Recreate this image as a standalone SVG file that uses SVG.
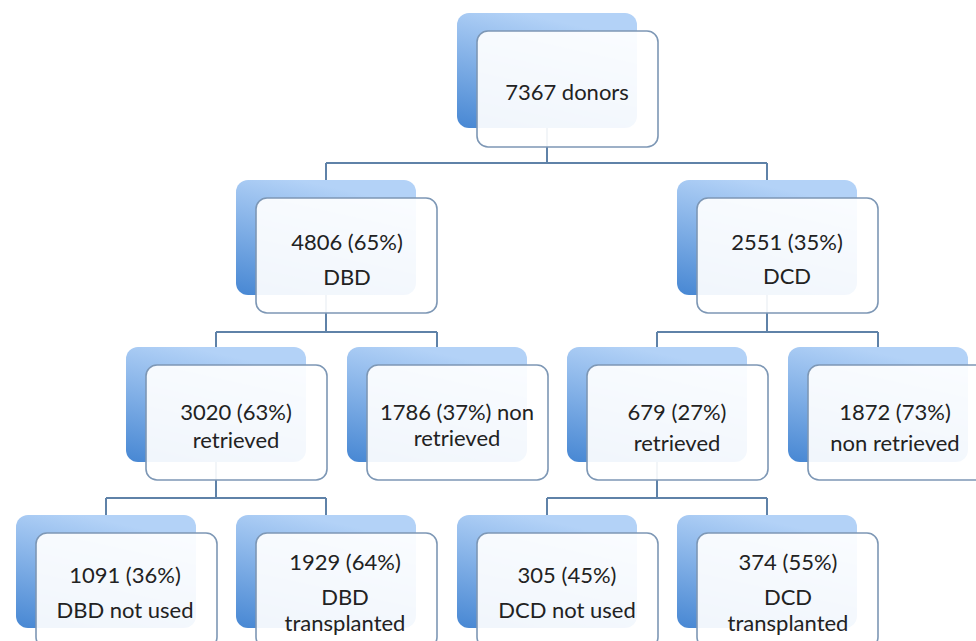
<svg xmlns="http://www.w3.org/2000/svg" width="976" height="641" viewBox="0 0 976 641">
<defs>
<linearGradient id="bg" x1="0.35" y1="0" x2="0" y2="1">
<stop offset="0" stop-color="#b3d2f7"/>
<stop offset="1" stop-color="#4787d3"/>
</linearGradient>
<style>
.back{fill:url(#bg);}
.front{fill:#ffffff;fill-opacity:0.92;stroke:#7d97b5;stroke-width:1.6;}
.conn{fill:none;stroke:#5f82a8;stroke-width:2;}
text{font-family:Lato,"Open Sans","Liberation Sans",sans-serif;font-size:22px;fill:#222;text-anchor:middle;}
</style>
</defs>
<rect width="976" height="641" fill="#ffffff"/>
<g id="connectors" class="conn">
<path d="M547,128V163M326,163H767M326,163V180M767,163V180"/>
<path d="M326,295V332M216,332H437M216,332V347M437,332V347"/>
<path d="M767,295V332M657,332H878M657,332V347M878,332V347"/>
<path d="M216,462V498M106,498H326M106,498V515M326,498V515"/>
<path d="M657,462V498M547,498H767M547,498V515M767,498V515"/>
</g>
<g id="n-donors">
<rect class="back" x="457" y="13" width="180" height="115" rx="12"/>
<rect class="front" x="477" y="31" width="181" height="116" rx="11"/>
<text x="567" y="100">7367 donors</text>
</g>
<g id="n-dbd">
<rect class="back" x="236" y="180" width="180" height="115" rx="12"/>
<rect class="front" x="256" y="198" width="181" height="115" rx="11"/>
<text x="347" y="250">4806 (65%)</text>
<text x="347" y="285">DBD</text>
</g>
<g id="n-dcd">
<rect class="back" x="677" y="180" width="180" height="115" rx="12"/>
<rect class="front" x="697" y="198" width="181" height="115" rx="11"/>
<text x="787" y="250">2551 (35%)</text>
<text x="787" y="284">DCD</text>
</g>
<g id="n-dbd-retrieved">
<rect class="back" x="126" y="347" width="180" height="115" rx="12"/>
<rect class="front" x="146" y="365" width="181" height="115" rx="11"/>
<text x="236" y="420">3020 (63%)</text>
<text x="236" y="448">retrieved</text>
</g>
<g id="n-dbd-nonretrieved">
<rect class="back" x="347" y="347" width="180" height="115" rx="12"/>
<rect class="front" x="367" y="365" width="181" height="115" rx="11"/>
<text x="457" y="420">1786 (37%) non</text>
<text x="457" y="446">retrieved</text>
</g>
<g id="n-dcd-retrieved">
<rect class="back" x="567" y="347" width="180" height="115" rx="12"/>
<rect class="front" x="587" y="365" width="181" height="115" rx="11"/>
<text x="677" y="420">679 (27%)</text>
<text x="677" y="451">retrieved</text>
</g>
<g id="n-dcd-nonretrieved">
<rect class="back" x="788" y="347" width="180" height="115" rx="12"/>
<rect class="front" x="808" y="365" width="181" height="115" rx="11"/>
<text x="895" y="420">1872 (73%)</text>
<text x="895" y="451">non retrieved</text>
</g>
<g id="n-dbd-notused">
<rect class="back" x="16" y="515" width="180" height="113" rx="12"/>
<rect class="front" x="36" y="533" width="181" height="115" rx="11"/>
<text x="125" y="583">1091 (36%)</text>
<text x="125" y="618">DBD not used</text>
</g>
<g id="n-dbd-transplanted">
<rect class="back" x="236" y="515" width="180" height="113" rx="12"/>
<rect class="front" x="256" y="533" width="181" height="115" rx="11"/>
<text x="345" y="570">1929 (64%)</text>
<text x="345" y="605">DBD</text>
<text x="345" y="631">transplanted</text>
</g>
<g id="n-dcd-notused">
<rect class="back" x="457" y="515" width="180" height="113" rx="12"/>
<rect class="front" x="477" y="533" width="181" height="115" rx="11"/>
<text x="567" y="583">305 (45%)</text>
<text x="567" y="618">DCD not used</text>
</g>
<g id="n-dcd-transplanted">
<rect class="back" x="677" y="515" width="180" height="113" rx="12"/>
<rect class="front" x="697" y="533" width="181" height="115" rx="11"/>
<text x="788" y="570">374 (55%)</text>
<text x="788" y="605">DCD</text>
<text x="788" y="631">transplanted</text>
</g>
</svg>
